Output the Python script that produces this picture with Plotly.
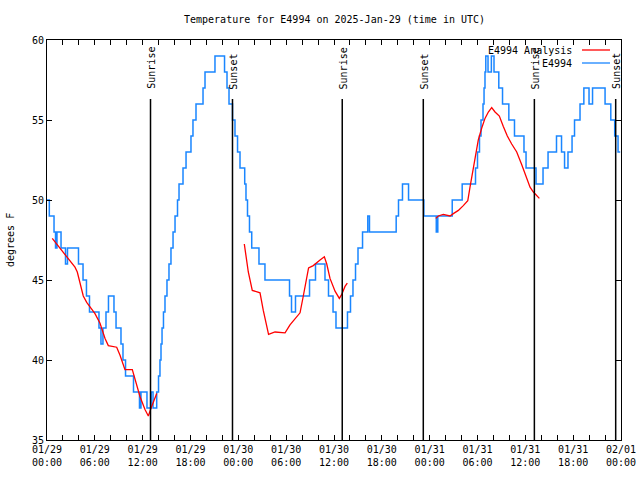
import pandas as pd
import plotly.graph_objects as go

START = pd.Timestamp("2025-01-29 00:00")

# Observed temperature (E4994), hours since 01/29 00:00 UTC, value held until next change
BLUE_HOURS = [0.00, 0.29, 0.88, 1.07, 1.25, 1.76, 2.32, 2.57, 3.95, 4.52,
              4.95, 5.33, 6.52, 6.77, 7.02, 7.40, 7.71, 8.40, 8.66, 9.28,
              9.53, 9.85, 10.85, 11.60, 11.79, 12.54, 13.07, 13.30, 13.76, 13.99,
              14.17, 14.30, 14.43, 14.61, 14.80, 15.05, 15.30, 15.55, 15.81, 16.06,
              16.37, 16.56, 17.06, 17.44, 18.06, 18.31, 18.69, 19.57, 19.82, 21.07,
              22.27, 22.58, 22.83, 23.27, 23.58, 23.90, 24.21, 24.80, 24.96, 25.15,
              25.40, 25.68, 26.59, 27.34, 30.42, 30.67, 31.17, 32.93, 33.68, 34.87,
              35.31, 35.88, 36.25, 37.69, 38.07, 38.38, 38.70, 39.01, 39.58, 40.24,
              40.45, 43.80, 44.09, 44.59, 45.35, 47.27, 48.83, 49.02, 50.83, 52.08,
              53.75, 54.00, 54.25, 54.44, 54.69, 54.82, 54.94, 55.04, 55.32, 55.74,
              56.07, 56.67, 57.14, 57.93, 58.64, 59.83, 60.09, 61.34, 62.22, 62.85,
              63.91, 64.54, 64.92, 65.35, 65.86, 66.17, 66.86, 67.34, 67.99, 68.43,
              70.00, 70.72, 71.21, 71.63, 71.90]
BLUE_TEMPS = [50, 49, 48, 47, 48, 47, 46, 47, 46, 45,
              44, 43, 42, 41, 42, 43, 44, 43, 42, 41,
              40, 39, 38, 37, 38, 37, 38, 37, 38, 39,
              40, 41, 42, 43, 44, 45, 46, 47, 48, 49,
              50, 51, 52, 53, 54, 55, 56, 57, 58, 59,
              58, 57, 56, 55, 54, 53, 52, 51, 50, 49,
              48, 47, 46, 45, 44, 43, 44, 45, 46, 45,
              44, 43, 42, 43, 44, 45, 46, 47, 48, 49,
              48, 49, 50, 51, 50, 49, 48, 49, 50, 51,
              52, 53, 54, 55, 56, 57, 58, 59, 58, 59,
              58, 57, 56, 55, 54, 53, 52, 51, 52, 53,
              54, 53, 52, 53, 54, 55, 56, 57, 56, 57,
              56, 55, 54, 53, 53]

# Analysis (three separate segments)
RED_HOURS_1 = [0.66, 1.42, 2.04, 2.67, 3.51, 3.80, 4.14, 4.55, 4.98, 5.39, 6.02, 6.65, 7.28,
               7.69, 8.74, 9.16, 9.78, 10.70, 11.04, 11.67, 12.29, 12.71, 13.13, 13.55, 13.76]
RED_TEMPS_1 = [47.6, 47.1, 46.7, 46.35, 45.8, 45.5, 44.8, 44.0, 43.6, 43.3, 42.9, 42.3, 41.35,
               40.9, 40.8, 40.3, 39.4, 39.4, 38.85, 37.7, 36.9, 36.5, 37.1, 37.7, 37.9]
RED_HOURS_2 = [24.75, 25.25, 25.75, 26.09, 26.72, 27.13, 27.79, 28.60, 29.86, 30.48, 31.32, 31.74, 32.15,
               32.58, 32.81, 33.40, 33.83, 34.25, 34.79, 35.09, 35.50, 36.13, 36.67, 36.97, 37.38, 37.67]
RED_TEMPS_2 = [47.25, 45.5, 44.35, 44.3, 44.2, 43.1, 41.6, 41.75, 41.7, 42.2, 42.7, 42.95, 44.0,
               45.2, 45.75, 45.9, 46.1, 46.25, 46.45, 46.0, 45.1, 44.3, 43.85, 44.1, 44.6, 44.8]
RED_HOURS_3 = [48.76, 49.08, 49.71, 50.55, 50.97, 51.60, 52.22, 52.78, 53.06, 53.35, 53.75, 54.10, 54.53, 54.94,
               55.36, 55.78, 56.20, 56.74, 57.24, 57.74, 58.29, 58.92, 59.55, 60.17, 60.59, 61.01, 61.43, 61.76]
RED_TEMPS_3 = [48.85, 49.0, 49.1, 49.0, 49.15, 49.35, 49.65, 49.95, 50.8, 51.7, 52.7, 53.75, 54.5, 55.1,
               55.5, 55.77, 55.5, 55.25, 54.6, 54.0, 53.5, 53.0, 52.2, 51.35, 50.8, 50.5, 50.3, 50.1]

SUN_LABELS = ["Sunrise", "Sunset", "Sunrise", "Sunset", "Sunrise", "Sunset"]
SUN_TIMES = ["2025-01-29 12:59", "2025-01-29 23:16", "2025-01-30 13:02",
             "2025-01-30 23:12", "2025-01-31 13:08", "2025-01-31 23:20"]

TICK_LABELS = ["01/29<br>00:00", "01/29<br>06:00", "01/29<br>12:00", "01/29<br>18:00",
               "01/30<br>00:00", "01/30<br>06:00", "01/30<br>12:00", "01/30<br>18:00",
               "01/31<br>00:00", "01/31<br>06:00", "01/31<br>12:00", "01/31<br>18:00",
               "02/01<br>00:00"]
Y_TICKS = [35, 40, 45, 50, 55, 60]

TITLE = "Temperature for E4994 on 2025-Jan-29 (time in UTC)"
YLABEL = "degrees F"
SERIES_NAMES = ["E4994 Analysis", "E4994"]

FONT = "DejaVu Sans Mono"
BLUE = "#1a86ff"
RED = "#ff0000"


def to_time(hours):
    return [None if h is None else START + pd.Timedelta(hours=h) for h in hours]


red_h = RED_HOURS_1 + [None] + RED_HOURS_2 + [None] + RED_HOURS_3
red_t = RED_TEMPS_1 + [None] + RED_TEMPS_2 + [None] + RED_TEMPS_3

fig = go.Figure()
fig.add_trace(go.Scatter(x=to_time(BLUE_HOURS), y=BLUE_TEMPS, mode="lines",
                         line=dict(color=BLUE, width=1.5, shape="hv"),
                         name=SERIES_NAMES[1], showlegend=False, hoverinfo="skip"))
fig.add_trace(go.Scatter(x=to_time(red_h), y=red_t, mode="lines",
                         line=dict(color=RED, width=1.3), connectgaps=False,
                         name=SERIES_NAMES[0], showlegend=False, hoverinfo="skip"))

# tick positions every 2 hours, labels every 6 hours
tick_vals = [START + pd.Timedelta(hours=h) for h in range(0, 73, 2)]
tick_text = [TICK_LABELS[h // 6] if h % 6 == 0 else "" for h in range(0, 73, 2)]

for lbl, t in zip(SUN_LABELS, SUN_TIMES):
    ts = pd.Timestamp(t)
    fig.add_shape(type="line", xref="x", yref="paper", x0=ts, x1=ts, y0=0, y1=0.8525,
                  line=dict(color="black", width=1.5))
    fig.add_annotation(x=ts, y=0.872, xref="x", yref="paper", text=lbl, textangle=-90,
                       showarrow=False, xanchor="center", yanchor="bottom",
                       font=dict(family=FONT, size=10, color="black"), xshift=1)

# legend (gnuplot style: text then sample)
for i, (name, col) in enumerate(zip(SERIES_NAMES, [RED, BLUE])):
    yp = (440 - (50 + 13 * i)) / 400
    fig.add_annotation(x=(574 - 47) / 574, y=yp, xref="paper", yref="paper", text=name,
                       showarrow=False, xanchor="right", yanchor="middle",
                       font=dict(family=FONT, size=10, color="black"))
    fig.add_shape(type="line", xref="paper", yref="paper",
                  x0=(582 - 47) / 574, x1=(610 - 47) / 574, y0=yp, y1=yp,
                  line=dict(color=col, width=1.3))

fig.add_annotation(x=0.5, y=(440 - 20) / 400, xref="paper", yref="paper", text=TITLE,
                   showarrow=False, xanchor="center", yanchor="middle",
                   font=dict(family=FONT, size=10, color="black"))
fig.add_annotation(x=(10 - 47) / 574, y=0.5, xref="paper", yref="paper", text=YLABEL,
                   textangle=-90, showarrow=False, xanchor="center", yanchor="middle",
                   font=dict(family=FONT, size=10, color="black"))

fig.update_xaxes(type="date", range=[START, START + pd.Timedelta(hours=72)],
                 tickvals=tick_vals, ticktext=tick_text, ticks="inside", ticklen=5,
                 tickcolor="black", showline=True, linecolor="black", linewidth=1,
                 mirror="ticks", showgrid=False, zeroline=False, automargin=False,
                 tickfont=dict(family=FONT, size=10, color="black"))
fig.update_yaxes(range=[35, 60], tickvals=Y_TICKS, ticks="inside", ticklen=5,
                 tickcolor="black", showline=True, linecolor="black", linewidth=1,
                 mirror="ticks", showgrid=False, zeroline=False, automargin=False,
                 tickfont=dict(family=FONT, size=10, color="black"))

fig.update_layout(width=640, height=480, margin=dict(l=47, r=19, t=40, b=40),
                  plot_bgcolor="white", paper_bgcolor="white", showlegend=False,
                  hovermode=False)

fig.write_html("out.html", config={"displayModeBar": False},
               post_script="document.body.style.margin='0';document.body.style.padding='0';"
                           "document.body.style.overflow='hidden';")
